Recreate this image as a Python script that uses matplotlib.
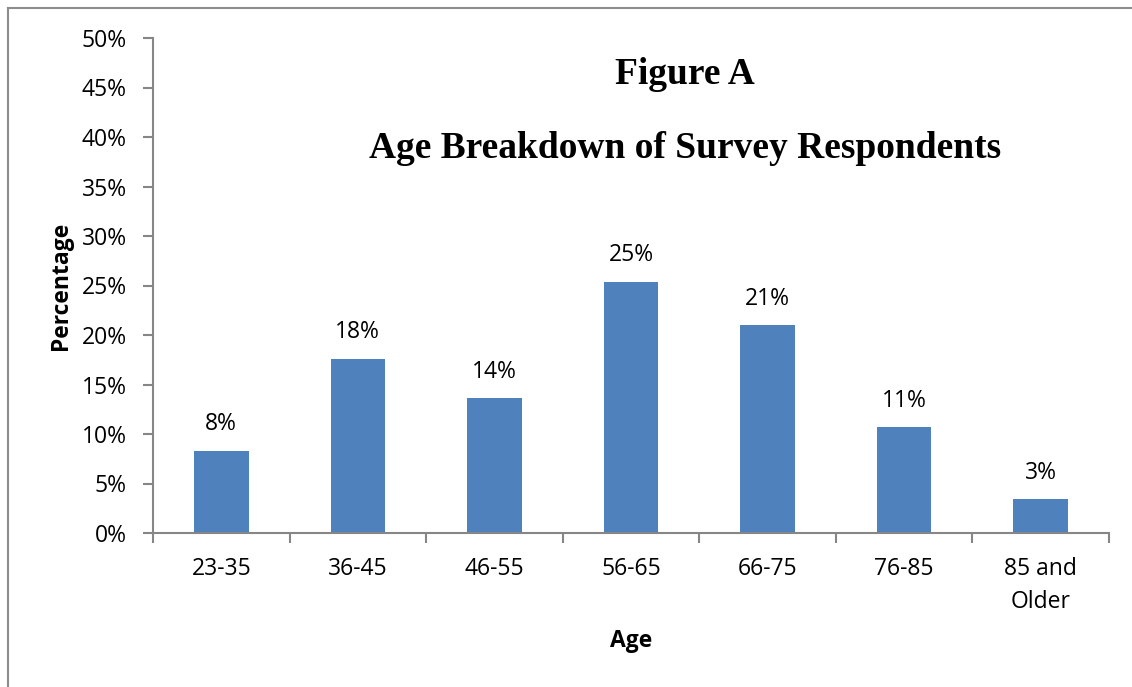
import numpy as np
import matplotlib
matplotlib.use("Agg")
import matplotlib.pyplot as plt
from matplotlib.lines import Line2D
from matplotlib.ticker import FuncFormatter, MultipleLocator

# Age groups and share of respondents (%)
AGE_GROUPS = ["23-35", "36-45", "46-55", "56-65", "66-75", "76-85", "85 and\nOlder"]
PERCENTAGES = [8.3, 17.6, 13.6, 25.4, 21.0, 10.7, 3.4]

BAR_COLOR = "#4F81BD"
AXIS_COLOR = "#868686"
SANS = "Open Sans"
SERIF = "Liberation Serif"
FS = 16.5

fig = plt.figure(figsize=(11.32, 6.87), dpi=100)
ax = fig.add_axes([153 / 1132, 1 - 533 / 687, (1109 - 153) / 1132, (533 - 38) / 687])

x = np.arange(len(AGE_GROUPS))
bars = ax.bar(x, PERCENTAGES, width=0.4, color=BAR_COLOR, zorder=2)

# value labels above bars
for rect, val in zip(bars, PERCENTAGES):
    ax.annotate(f"{val:.0f}%", (rect.get_x() + rect.get_width() / 2, rect.get_height()),
                xytext=(0, 19), textcoords="offset points", ha="center", va="center",
                fontsize=FS, family=SANS, color="black")

ax.set_xlim(-0.5, len(AGE_GROUPS) - 0.5)
ax.set_ylim(0, 50)

# y axis: 0..50% every 5
ax.yaxis.set_major_locator(MultipleLocator(5))
ax.yaxis.set_major_formatter(FuncFormatter(lambda v, _: f"{v:.0f}%"))
ax.tick_params(axis="y", direction="out", length=7, width=1.5, color=AXIS_COLOR,
               pad=12, labelsize=FS, labelcolor="black")

# x axis: tick marks between categories, labels in centres
ax.set_xticks(np.arange(-0.5, len(AGE_GROUPS), 1.0))
ax.set_xticklabels([])
ax.set_xticks(x, minor=True)
ax.set_xticklabels(AGE_GROUPS, minor=True, fontsize=FS, family=SANS, linespacing=1.5)
ax.tick_params(axis="x", which="major", direction="out", length=7, width=1.5, color=AXIS_COLOR)
ax.tick_params(axis="x", which="minor", length=0, pad=17)

for lbl in ax.get_yticklabels():
    lbl.set_family(SANS)

for side in ["top", "right"]:
    ax.spines[side].set_visible(False)
for side in ["left", "bottom"]:
    ax.spines[side].set_color(AXIS_COLOR)
    ax.spines[side].set_linewidth(1.5)

ax.set_xlabel("Age", fontsize=FS, family=SANS, fontweight="bold")
ax.xaxis.set_label_coords(0.5, (533 - 641) / (533 - 38))
ax.xaxis.label.set_va("center")
ax.set_ylabel("Percentage", fontsize=FS, family=SANS, fontweight="bold")
ax.yaxis.set_label_coords((61 - 153) / (1109 - 153), 0.5)
ax.yaxis.label.set_va("center")

# titles
fig.text(685 / 1132, 1 - 75 / 687, "Figure A", ha="center", va="center",
         fontsize=27, family=SERIF, fontweight="bold")
fig.text(685 / 1132, 1 - 149 / 687, "Age Breakdown of Survey Respondents", ha="center",
         va="center", fontsize=27, family=SERIF, fontweight="bold")

# chart area border (top and left visible)
fig.add_artist(Line2D([8 / 1132, 1], [1 - 8 / 687, 1 - 8 / 687], color="#8C8C8C", lw=1.5,
                      transform=fig.transFigure))
fig.add_artist(Line2D([8 / 1132, 8 / 1132], [0, 1 - 8 / 687], color="#8C8C8C", lw=1.5,
                      transform=fig.transFigure))

fig.savefig("out.png", dpi=100, facecolor="white")
